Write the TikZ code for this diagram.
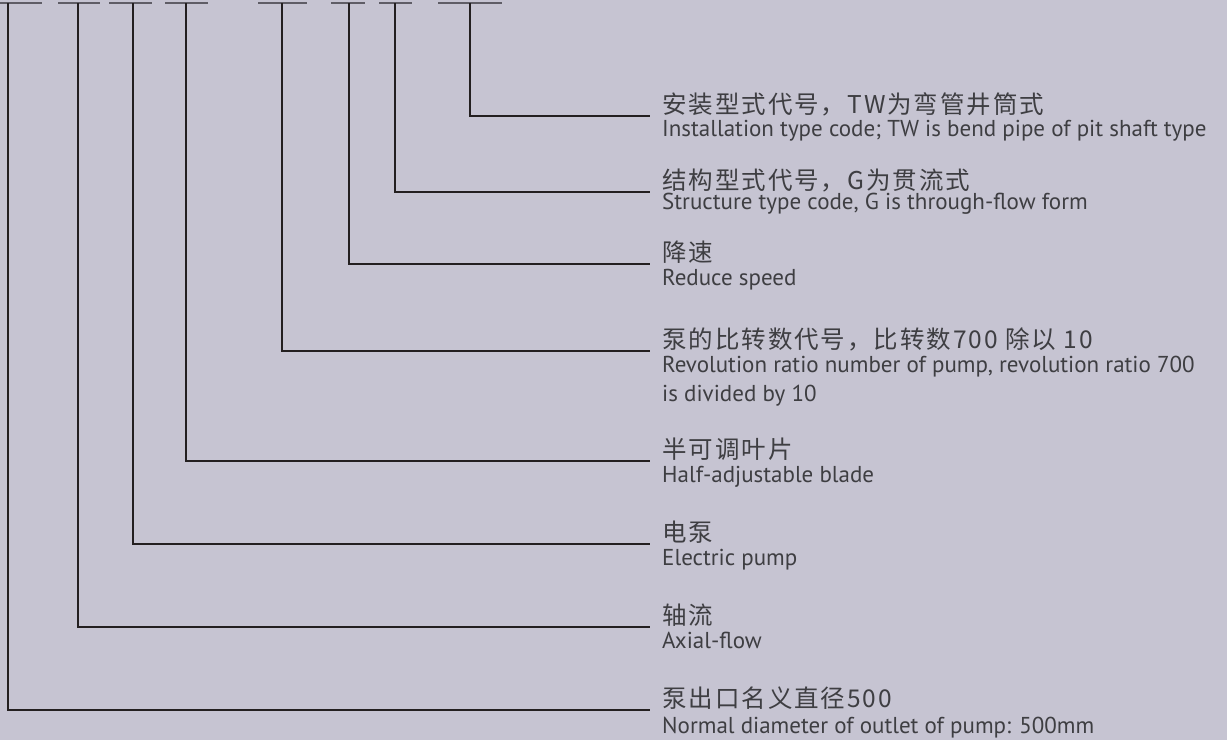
\documentclass[tikz,border=0pt]{standalone}
\usepackage{fontspec}
\setmainfont{PT Sans}
\newfontfamily\cjk[LetterSpace=8]{Noto Sans CJK SC}
\usepackage{xcolor}
\definecolor{bgpaper}{RGB}{198,196,210}
\definecolor{inkline}{RGB}{35,31,32}
\definecolor{inkbar}{RGB}{95,93,102}
\definecolor{inktext}{RGB}{62,62,66}

\tikzset{
  zh/.style={anchor=base west,inner sep=0pt,text=inktext,font=\cjk\fontsize{24.5}{28}\selectfont},
  en/.style={anchor=base west,inner sep=0pt,text=inktext,align=left,font=\fontsize{23}{29}\selectfont},
  leader/.style={draw=inkline,line width=1.3pt},
  bar/.style={draw=inkbar,line width=1.6pt}
}

\begin{document}
\begin{tikzpicture}[x=1pt,y=-1pt]
				% sfondo
				\fill[bgpaper] (0,0) rectangle (1227,740);
				\useasboundingbox (0,0) rectangle (1227,740);
				
				% trattini in alto
				\draw[bar] (-5,3) -- (42,3);
				\draw[bar] (58,3) -- (100,3);
				\draw[bar] (109,3) -- (152,3);
				\draw[bar] (165,3) -- (208,3);
				\draw[bar] (258,3) -- (307,3);
				\draw[bar] (331,3) -- (365,3);
				\draw[bar] (379,3) -- (412,3);
				\draw[bar] (438,3) -- (502,3);
				
				% punti di partenza
				\coordinate (diamtop) at (8,3);
				\coordinate (axialtop) at (78,3);
				\coordinate (electop) at (133,3);
				\coordinate (bladetop) at (186,3);
				\coordinate (ratiotop) at (282,3);
				\coordinate (speedtop) at (349,3);
				\coordinate (structop) at (395,3);
				\coordinate (insttop) at (470,3);
				
				% fine delle linee
				\coordinate (instend) at (650,116);
				\coordinate (strucend) at (650,192);
				\coordinate (speedend) at (650,264);
				\coordinate (ratioend) at (650,351);
				\coordinate (bladeend) at (650,461);
				\coordinate (elecend) at (650,544);
				\coordinate (axialend) at (650,627);
				\coordinate (diamend) at (650,710);
				
				% testi
				\node[zh] (instzh) at (662,113) {安装型式代号，TW为弯管井筒式};
				\node[en] (instenl) at (662,136) {Installation type code; TW is bend pipe of pit shaft type};
				\node[zh] (struczh) at (662,189) {结构型式代号，G为贯流式};
				\node[en] (strucen) at (662,209) {Structure type code, G is through-flow form};
				\node[zh] (speedzh) at (662,261) {降速};
				\node[en] (speeden) at (662,285) {Reduce speed};
				\node[zh] (ratiozh) at (662,348) {泵的比转数代号，比转数700 除以 10};
				\node[en,anchor=north west] (ratioen) at (662,356) {Revolution ratio number of pump, revolution ratio 700\\is divided by 10};
				\node[zh] (bladezh) at (662,458) {半可调叶片};
				\node[en] (bladeen) at (662,482) {Half-adjustable blade};
				\node[zh] (eleczh) at (662,541) {电泵};
				\node[en] (elecen) at (662,565) {Electric pump};
				\node[zh] (axialzh) at (662,624) {轴流};
				\node[en] (axialen) at (662,648) {Axial-flow};
				\node[zh] (diamzh) at (662,707) {泵出口名义直径500};
				\node[en] (diamen) at (662,733) {Normal diameter of outlet of pump: 500mm};
				
				% linee di richiamo
				\draw[leader] (insttop) |- (instend);
				\draw[leader] (structop) |- (strucend);
				\draw[leader] (speedtop) |- (speedend);
				\draw[leader] (ratiotop) |- (ratioend);
				\draw[leader] (bladetop) |- (bladeend);
				\draw[leader] (electop) |- (elecend);
				\draw[leader] (axialtop) |- (axialend);
				\draw[leader] (diamtop) |- (diamend);
				
			\end{tikzpicture}
\end{document}
